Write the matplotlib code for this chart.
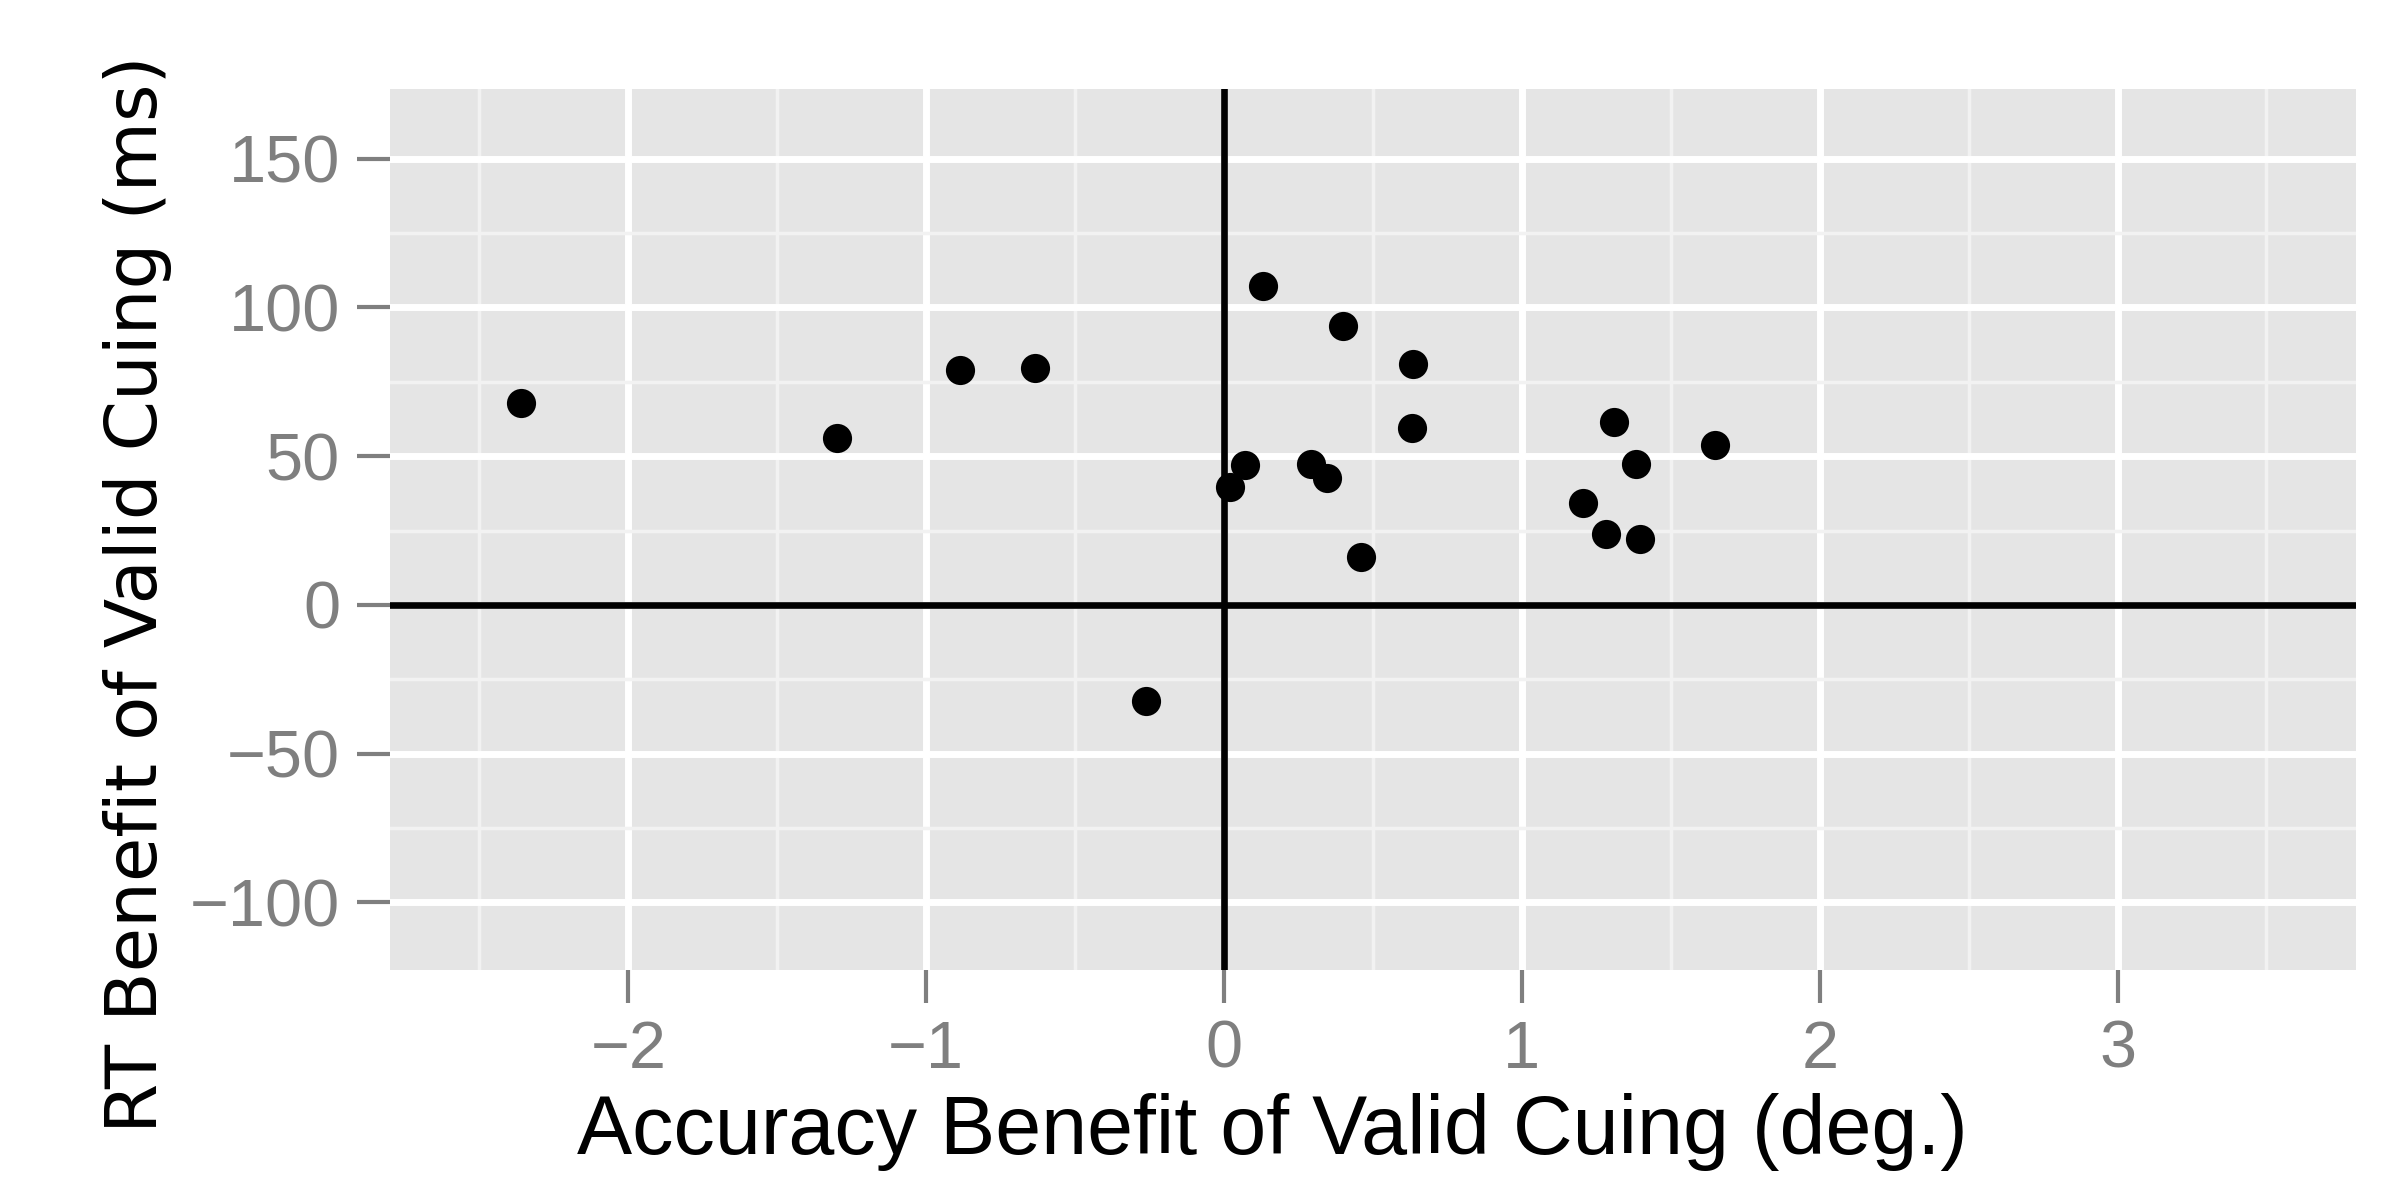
import numpy as np
import matplotlib
matplotlib.use('Agg')
import matplotlib.pyplot as plt
from matplotlib.ticker import MultipleLocator

# benefit of valid cuing per subject
acc_benefit = [-2.36, -1.30, -0.885, -0.636, -0.262,
               0.019, 0.069, 0.130, 0.293, 0.346, 0.398, 0.460, 0.630, 0.634,
               1.206, 1.281, 1.308, 1.383, 1.396, 1.648]
rt_benefit = [67.9, 56.1, 79.1, 79.6, -32.4,
              39.6, 47.0, 107.1, 47.2, 42.8, 93.7, 16.2, 59.3, 81.1,
              34.1, 24.0, 61.5, 47.5, 22.1, 53.6]

x_ticks = [-2, -1, 0, 1, 2, 3]
y_ticks = [-100, -50, 0, 50, 100, 150]

plt.rcParams['font.family'] = ['Liberation Sans', 'DejaVu Sans']

fig = plt.figure(figsize=(23.99, 11.79), dpi=100)
ax = fig.add_axes([0.1626, 0.1773, 0.8194, 0.7472])

ax.set_facecolor('#e5e5e5')
for s in ax.spines.values():
    s.set_visible(False)

ax.set_xlim(-2.80, 3.80)
ax.set_ylim(-122.7, 173.4)
ax.set_xticks(x_ticks)
ax.set_yticks(y_ticks)
ax.xaxis.set_minor_locator(MultipleLocator(0.5))
ax.yaxis.set_minor_locator(MultipleLocator(25))

ax.grid(which='major', color='white', lw=5.0, zorder=0)
ax.grid(which='minor', color='#f2f2f2', lw=2.5, zorder=0)
ax.set_axisbelow(True)

ax.tick_params(which='major', length=24, width=3, color='#7f7f7f',
               labelsize=48, labelcolor='#7f7f7f')
ax.tick_params(which='minor', length=0)
ax.tick_params(axis='x', pad=12)
ax.tick_params(axis='y', pad=12)

ax.axhline(0, color='black', lw=4.8, zorder=2)
ax.axvline(0, color='black', lw=4.8, zorder=2)

ax.plot(acc_benefit, rt_benefit, 'o', color='black', ms=21, mew=0, zorder=3)

ax.set_xlabel('Accuracy Benefit of Valid Cuing (deg.)', fontsize=59.5,
              va='baseline')
ax.xaxis.set_label_coords(0.5302, 0.0212, transform=fig.transFigure)
ax.set_ylabel('RT Benefit of Valid Cuing (ms)', fontsize=52,
              family=['DejaVu Sans'], va='baseline')
ax.yaxis.set_label_coords(0.0654, 0.4958, transform=fig.transFigure)

fig.savefig('out.png', dpi=100, facecolor='white')
